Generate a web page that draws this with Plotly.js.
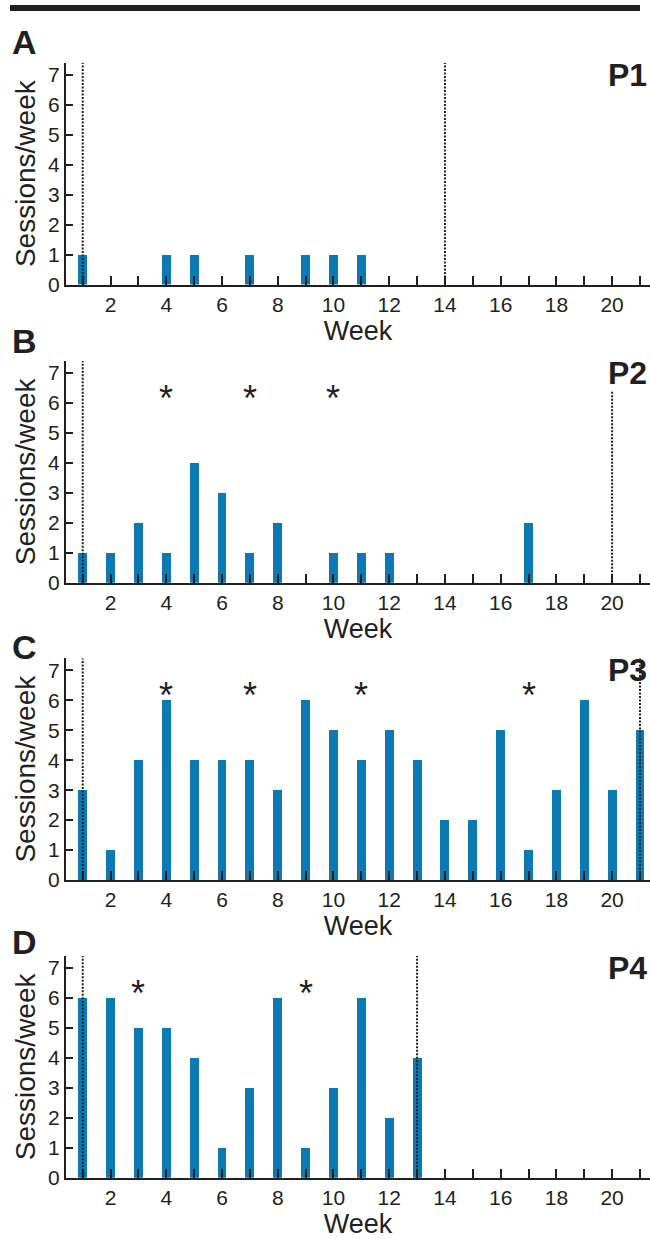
<!DOCTYPE html>
<html>
<head>
<meta charset="utf-8">
<script src="https://cdn.plot.ly/plotly-3.0.1.min.js"></script>
<style>
html,body{margin:0;padding:0;background:#fff;}
#chart{width:650px;height:1239px;}
</style>
</head>
<body>
<div id="chart"></div>
<script>
// ---------------- data ----------------
const weeks = [1,2,3,4,5,6,7,8,9,10,11,12,13,14,15,16,17,18,19,20,21];
const weekTickLabels = ['', '2', '', '4', '', '6', '', '8', '', '10', '', '12', '', '14', '', '16', '', '18', '', '20', ''];
const sessionTicks = [0,1,2,3,4,5,6,7];
const sessionTickLabels = ['0','1','2','3','4','5','6','7'];

const p1Sessions = [1,0,0,1,1,0,1,0,1,1,1,0,0,0,0,0,0,0,0,0,0];
const p2Sessions = [1,1,2,1,4,3,1,2,0,1,1,1,0,0,0,0,2,0,0,0,0];
const p3Sessions = [3,1,4,6,4,4,4,3,6,5,4,5,4,2,2,5,1,3,6,3,5];
const p4Sessions = [6,6,5,5,4,1,3,6,1,3,6,2,4,0,0,0,0,0,0,0,0];

const p1StarWeeks = [];
const p2StarWeeks = [4,7,10];
const p3StarWeeks = [4,7,11,17];
const p4StarWeeks = [3,9];

const p1MarkerWeeks = [1,14];
const p2MarkerWeeks = [1,20];
const p3MarkerWeeks = [1,21];
const p4MarkerWeeks = [1,13];

const panelLetters = ['A','B','C','D'];
const participantLabels = ['P1','P2','P3','P4'];
const xTitle = 'Week';
const yTitle = 'Sessions/week';

// ---------------- styling / layout ----------------
const W = 650, H = 1239;
const FONT = '"Liberation Sans", Arial, Helvetica, sans-serif';
const INK = '#231f20';
const BLUE = '#0a79b4';
const plotLeft = 66, plotRight = 650;
const bottomsPx = [284.5, 582.7, 880, 1177.7];
const unitPx = 29.95;
const yMax = 7.4;
const xRange = [0.40, 21.36];
const letterCentersPx = [42, 340.5, 647, 942.5];
const starLevel = 6.3;
// dotted marker line tops (data units), per panel, per marker
const markerTops = [[yMax, yMax],[yMax, 6.4],[yMax, yMax],[yMax, yMax]];

const panels = [
  {values: p1Sessions, stars: p1StarWeeks, markers: p1MarkerWeeks},
  {values: p2Sessions, stars: p2StarWeeks, markers: p2MarkerWeeks},
  {values: p3Sessions, stars: p3StarWeeks, markers: p3MarkerWeeks},
  {values: p4Sessions, stars: p4StarWeeks, markers: p4MarkerWeeks}
];

const data = [];
const layout = {
  width: W, height: H,
  margin: {l:0, r:0, t:0, b:0},
  paper_bgcolor: '#ffffff',
  plot_bgcolor: 'rgba(0,0,0,0)',
  showlegend: false,
  font: {family: FONT, color: INK},
  annotations: [],
  shapes: [],
  bargap: 0
};

// top rule
layout.shapes.push({
  type: 'rect', xref: 'paper', yref: 'paper',
  x0: 10/W, x1: 640/W, y0: 1 - 11/H, y1: 1 - 5/H,
  fillcolor: INK, line: {width: 0}, layer: 'above'
});

panels.forEach((p, i) => {
  const n = i + 1;
  const xa = n === 1 ? 'x' : 'x' + n;
  const ya = n === 1 ? 'y' : 'y' + n;
  const xKey = n === 1 ? 'xaxis' : 'xaxis' + n;
  const yKey = n === 1 ? 'yaxis' : 'yaxis' + n;
  const bottom = bottomsPx[i];
  const top = bottom - yMax * unitPx;

  data.push({
    type: 'bar', x: weeks, y: p.values, xaxis: xa, yaxis: ya,
    width: 0.32, marker: {color: BLUE, line: {width: 0}},
    hoverinfo: 'x+y'
  });

  layout[xKey] = {
    domain: [plotLeft / W, plotRight / W],
    anchor: ya, range: xRange, fixedrange: true,
    showgrid: false, zeroline: false,
    showline: true, linewidth: 2, linecolor: INK,
    ticks: 'inside', ticklen: 9, tickwidth: 2, tickcolor: INK,
    tickvals: weeks, ticktext: weekTickLabels,
    tickfont: {family: FONT, size: 21, color: INK},
    title: {text: xTitle, font: {family: FONT, size: 27, color: INK}, standoff: 1}
  };
  layout[yKey] = {
    domain: [1 - bottom / H, 1 - top / H],
    anchor: xa, range: [0, yMax], fixedrange: true,
    showgrid: false, zeroline: false,
    showline: true, linewidth: 2, linecolor: INK,
    ticks: 'inside', ticklen: 7, tickwidth: 2, tickcolor: INK,
    tickvals: sessionTicks, ticktext: sessionTickLabels,
    tickfont: {family: FONT, size: 21, color: INK},
    title: {text: yTitle, font: {family: FONT, size: 28, color: INK}, standoff: 4}
  };

  // dotted marker lines
  p.markers.forEach((wk, j) => {
    layout.shapes.push({
      type: 'line', xref: xa, yref: ya,
      x0: wk, x1: wk, y0: 0, y1: markerTops[i][j],
      line: {color: INK, width: 2, dash: '2px,1.5px'}, layer: 'above'
    });
  });

  // asterisks
  p.stars.forEach(wk => {
    layout.annotations.push({
      xref: xa, yref: ya, x: wk, y: starLevel, yshift: -4,
      text: '*', showarrow: false,
      font: {family: FONT, size: 36, color: INK},
      xanchor: 'center', yanchor: 'middle'
    });
  });

  // panel letter
  layout.annotations.push({
    xref: 'paper', yref: 'paper', x: 10 / W, y: 1 - letterCentersPx[i] / H,
    text: '<b>' + panelLetters[i] + '</b>', showarrow: false,
    font: {family: FONT, size: 34, color: INK},
    xanchor: 'left', yanchor: 'middle'
  });

  // participant label
  layout.annotations.push({
    xref: 'paper', yref: ya, x: 649 / W, y: 7.0,
    text: '<b>' + participantLabels[i] + '</b>', showarrow: false,
    font: {family: FONT, size: 32, color: INK},
    xanchor: 'right', yanchor: 'middle'
  });
});

Plotly.newPlot('chart', data, layout, {staticPlot: true, displayModeBar: false});
</script>
</body>
</html>
